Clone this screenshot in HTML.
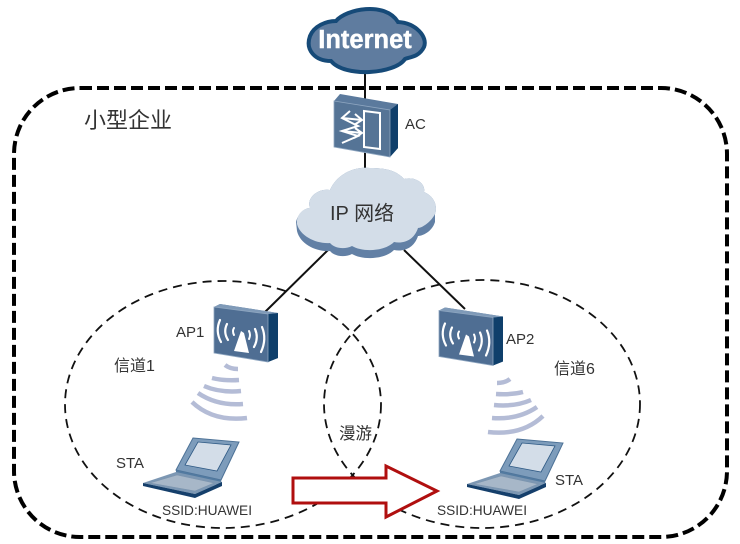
<!DOCTYPE html>
<html><head><meta charset="utf-8"><style>
html,body{margin:0;padding:0;background:#fff}
svg{display:block}
text{font-family:"Liberation Sans","Noto Sans CJK SC",sans-serif;fill:#333}
</style></head><body>
<svg width="740" height="544" viewBox="0 0 740 544" xmlns="http://www.w3.org/2000/svg">
<defs>
<g id="ap">
  <path d="M214 307L220 304L278 313L278 358L268 362L214 353Z" fill="#5b7a9d"/>
  <path d="M268 314L278 313L278 358L268 362Z" fill="#0f3f6b"/>
  <path d="M214 307L220 304L278 313L268 314Z" fill="#7f9ab8"/>
  <path d="M214 307L268 314L268 362L214 353Z" fill="#4f6e93" stroke="#8ea6c0" stroke-width=".8"/>
  <g fill="none" stroke="#fff" stroke-linecap="round">
    <path d="M220 320Q215 331 221 342" stroke-width="2.200"/>
    <path d="M227 324Q223 332 228 340" stroke-width="2.200"/>
    <path d="M234 328Q232 331 234 335" stroke-width="2"/>
    <path d="M262 327Q267 339 261 352" stroke-width="2.200"/>
    <path d="M255 329Q259 338 254 347" stroke-width="2.200"/>
    <path d="M249 331Q251 335 249 339" stroke-width="2"/>
  </g>
  <path d="M241 331L244 333L249 353L234 351Z" fill="#fff"/>
</g>
<g id="laptop">
  <path d="M193 438L239 442L221 480L176 470Z" fill="#7d9cbb" stroke="#4d7297" stroke-width="1"/>
  <path d="M198 442L231 445L217 471L185 465Z" fill="#d3dde8" stroke="#2f5a85" stroke-width=".8"/>
  <path d="M176 470L221 480L222 486L176 475Z" fill="#527aa0"/>
  <path d="M143 483L176 472L222 482L195 494Z" fill="#7c97b3"/>
  <path d="M150 483L177 475L214 483L195 491Z" fill="#a7b7c8" stroke="#7c94ad" stroke-width=".6"/>
  <path d="M143 483L195 494L222 482L222 486L195 498L143 486Z" fill="#153f6b"/>
</g>
<g id="waves" fill="none" stroke="#b4bcd6" stroke-width="4.500">
  <path d="M225 365Q230 369 238 369"/>
  <path d="M212 378Q224 381 239 380"/>
  <path d="M204 386Q220 393 241 391"/>
  <path d="M198 393Q217 406 243 404"/>
  <path d="M192 402Q213 422 247 418"/>
</g>
</defs>

<rect x="14" y="88" width="713" height="449" rx="66" ry="66" fill="none" stroke="#000" stroke-width="4" stroke-dasharray="12 5"/>

<line x1="365" y1="70" x2="365" y2="100" stroke="#111" stroke-width="2"/>
<line x1="365" y1="150" x2="365" y2="175" stroke="#111" stroke-width="2"/>
<line x1="328" y1="250" x2="265" y2="312" stroke="#111" stroke-width="2"/>
<line x1="404" y1="250" x2="465" y2="309" stroke="#111" stroke-width="2"/>

<ellipse cx="223" cy="404.500" rx="158" ry="123.500" fill="none" stroke="#111" stroke-width="1.800" stroke-dasharray="9 6"/>
<ellipse cx="482" cy="404" rx="158" ry="124" fill="none" stroke="#111" stroke-width="1.800" stroke-dasharray="9 6"/>

<!-- Internet cloud -->
<path d="M336 21C346 9 385 1 398 22C416 23 428 37 424 47C419 57 410 57 405 59C395 74 345 78 331 61C315 61 305 50 310 36C314 26 326 21 336 21Z" fill="#5f7c9f" stroke="#164a78" stroke-width="4"/>
<text x="365" y="48" text-anchor="middle" font-size="25.500" font-weight="700" style="fill:#fff;stroke:#fff;stroke-width:.4">Internet</text>

<!-- AC -->
<path d="M334 101L340 94L398 104L398 148L390 157L334 147Z" fill="#5b7a9d"/>
<path d="M390 110L398 104L398 148L390 157Z" fill="#0f3f6b"/>
<path d="M334 101L390 110L390 157L334 147Z" fill="#557496" stroke="#8ea6c0" stroke-width=".8"/>
<g fill="none" stroke="#fff" stroke-width="2">
  <path d="M364 111L380 113L380 149L364 147Z"/>
  <path d="M342 118L362 120M355 114L362 120L354 125"/>
  <path d="M350 111L342 118L358 126L342 131L358 136L342 143"/>
  <path d="M342 131L362 133M355 128L362 133L354 138"/>
</g>
<text x="405" y="129" font-size="15">AC</text>

<!-- IP cloud -->
<path d="M330 251C316 252 300 244 297 231L296 222C298 214 304 208 310 208C306 198 318 188 330 190C336 176 352 166 370 168C384 168 396 170 404 179C416 176 426 184 424 192C434 196 438 206 435 214L435 222C432 232 422 236 418 236C414 248 404 252 394 250C384 260 362 260 352 254C344 258 334 256 330 251Z" fill="#6280a5"/>
<path d="M330 243C316 244 300 236 297 224C296 214 304 208 310 208C306 198 318 188 330 190C336 176 352 166 370 168C384 168 396 170 404 179C416 176 426 184 424 192C434 196 438 206 435 214C431 222 422 228 418 228C414 240 404 244 394 242C384 252 362 252 352 246C344 250 334 248 330 243Z" fill="#d3dde8"/>
<text x="330" y="220" font-size="20">IP 网络</text>

<use href="#ap"/>
<use href="#ap" transform="translate(225 3.500)"/>
<use href="#waves"/>
<use href="#waves" transform="translate(735 14) scale(-1 1)"/>
<use href="#laptop"/>
<use href="#laptop" transform="translate(324 1)"/>

<!-- Arrow -->
<path d="M293 478H386V466L437 491L386 517V503H293Z" fill="#fff" stroke="#b00f0f" stroke-width="3"/>

<text x="84" y="128" font-size="22">小型企业</text>
<text x="176" y="337" font-size="15">AP1</text>
<text x="506" y="344" font-size="15">AP2</text>
<text x="114" y="371" font-size="16">信道1</text>
<text x="554" y="374" font-size="16">信道6</text>
<text x="339" y="439" font-size="16.500">漫游</text>
<text x="116" y="468" font-size="15">STA</text>
<text x="555" y="485" font-size="15">STA</text>
<text x="162" y="515" font-size="13.700">SSID:HUAWEI</text>
<text x="437" y="515" font-size="13.700">SSID:HUAWEI</text>
</svg>
</body></html>
